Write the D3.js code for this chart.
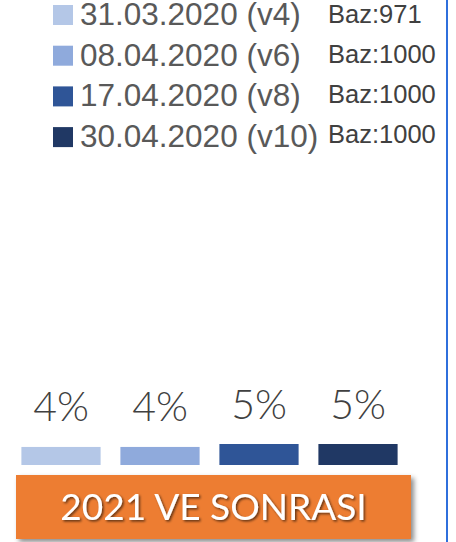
<!DOCTYPE html>
<html>
<head>
<meta charset="utf-8">
<script src="https://cdn.jsdelivr.net/npm/d3@7"></script>
<style>
  body { margin: 0; background: #fff; }
  svg { display: block; }
</style>
</head>
<body>
<svg id="chart" width="456" height="542"></svg>
<script>
// survey waves and their share for "2021 ve sonrası"
var waves = ["31.03.2020 (v4)", "08.04.2020 (v6)", "17.04.2020 (v8)", "30.04.2020 (v10)"];
var bases = ["Baz:971", "Baz:1000", "Baz:1000", "Baz:1000"];
var shares = [4.3, 4.3, 5.0, 5.0];
var colors = ["#B4C7E7", "#8FAADC", "#2F5597", "#203864"];
var title = "2021 VE SONRASI";

var svg = d3.select("#chart");
var defs = svg.append("defs");

// soft shadow for the orange box
var boxShadow = defs.append("filter").attr("id", "boxShadow")
  .attr("x", "-10%").attr("y", "-20%").attr("width", "125%").attr("height", "150%");
boxShadow.append("feDropShadow")
  .attr("dx", 3).attr("dy", 3).attr("stdDeviation", 2.5)
  .attr("flood-color", "#000").attr("flood-opacity", 0.45);

// small hard shadow for the white title text
var textShadow = defs.append("filter").attr("id", "textShadow");
textShadow.append("feDropShadow")
  .attr("dx", 1.5).attr("dy", 1.5).attr("stdDeviation", 0.8)
  .attr("flood-color", "#000").attr("flood-opacity", 0.6);

// blue frame line on the right
svg.append("line")
  .attr("x1", 447).attr("x2", 447)
  .attr("y1", 0).attr("y2", 542)
  .attr("stroke", "#2F6FDC")
  .attr("stroke-width", 2);

// legend
var legend = svg.append("g").selectAll("g")
  .data(waves)
  .join("g");

legend.append("rect")
  .attr("x", 53)
  .attr("y", function(d, i) { return 5 + i * 40.7; })
  .attr("width", 20)
  .attr("height", 20)
  .attr("fill", function(d, i) { return colors[i]; });

legend.append("text")
  .attr("x", 80)
  .attr("y", function(d, i) { return 25 + i * 40.7; })
  .attr("font-family", "Liberation Sans, Arial, sans-serif")
  .attr("font-size", 31.5)
  .attr("fill", "#595959")
  .text(function(d) { return d; });

legend.append("text")
  .attr("x", 328)
  .attr("y", function(d, i) { return 23 + i * 40; })
  .attr("font-family", "Liberation Sans, Arial, sans-serif")
  .attr("font-size", 25.5)
  .attr("fill", "#404040")
  .text(function(d, i) { return bases[i]; });

// bars
var x = d3.scaleBand()
  .domain(waves)
  .range([11.5, 407.5])
  .paddingInner(0.2)
  .paddingOuter(0.1);

var y = d3.scaleLinear()
  .domain([0, 5])
  .range([465, 444]);

svg.append("g").selectAll("rect")
  .data(shares)
  .join("rect")
  .attr("x", function(d, i) { return x(waves[i]); })
  .attr("y", function(d) { return y(d); })
  .attr("width", x.bandwidth())
  .attr("height", function(d) { return y(0) - y(d); })
  .attr("fill", function(d, i) { return colors[i]; });

// value labels
svg.append("g").selectAll("text")
  .data(shares)
  .join("text")
  .attr("x", function(d, i) { return x(waves[i]) + x.bandwidth() / 2; })
  .attr("y", function(d) { return y(d) - 25.5; })
  .attr("text-anchor", "middle")
  .attr("font-family", "Lato, Liberation Sans, sans-serif")
  .attr("font-weight", 300)
  .attr("font-size", 41)
  .attr("fill", "#404040")
  .text(function(d) { return d3.format(".0f")(d) + "%"; });

// orange title box
svg.append("rect")
  .attr("x", 16).attr("y", 475)
  .attr("width", 395).attr("height", 64)
  .attr("fill", "#ED7D31")
  .attr("filter", "url(#boxShadow)");

svg.append("text")
  .attr("x", 213.5).attr("y", 520)
  .attr("text-anchor", "middle")
  .attr("font-family", "Lato, Liberation Sans, sans-serif")
  .attr("font-size", 37)
  .attr("fill", "#fff")
  .attr("filter", "url(#textShadow)")
  .text(title);
</script>
</body>
</html>
